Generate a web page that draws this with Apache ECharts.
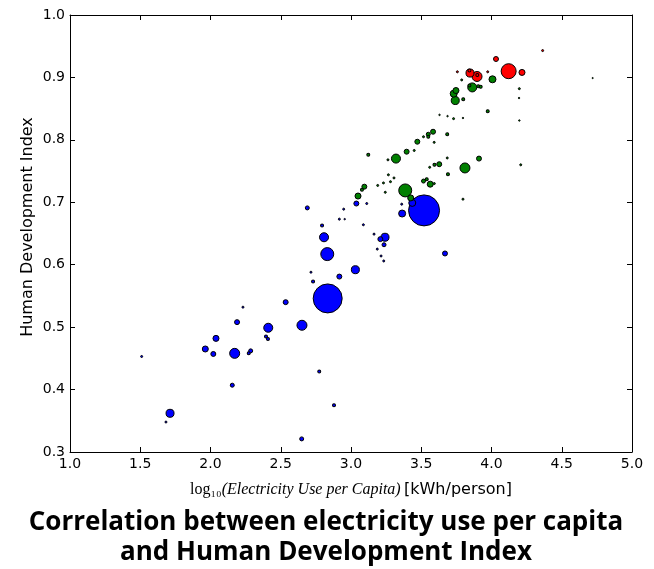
<!DOCTYPE html>
<html>
<head>
<meta charset="utf-8">
<script src="https://cdn.jsdelivr.net/npm/echarts@6/dist/echarts.min.js"></script>
<style>
  html, body { margin: 0; padding: 0; background: #fff; }
  #chart { width: 654px; height: 569px; }
</style>
</head>
<body>
<div id="chart"></div>
<script>
// log10 of electricity use per capita (kWh/person), HDI and population (millions)
// grouped by HDI tier.
const lowHdiElec = [1.51,1.712,1.683,1.963,2.020,2.039,2.172,2.189,2.155,2.272,2.286,2.411,2.395,2.409,2.651,2.774,2.879,2.649,2.231,2.535,2.834,2.715,2.730,2.917,3.031,2.831,2.808,2.794,2.689,2.948,2.917,2.955,3.038,3.112,3.088,3.164,3.209,3.242,3.235,3.187,3.214,3.233,3.361,3.436,3.364,3.520,3.669];
const lowHdiIndex = [0.453,0.362,0.348,0.465,0.457,0.482,0.458,0.508,0.407,0.458,0.462,0.499,0.485,0.481,0.503,0.429,0.375,0.321,0.532,0.540,0.546,0.588,0.573,0.581,0.592,0.617,0.644,0.663,0.691,0.689,0.673,0.673,0.698,0.698,0.664,0.649,0.641,0.644,0.632,0.625,0.614,0.606,0.697,0.699,0.682,0.687,0.618];
const lowHdiPop = [1.4,68,1.4,35,22,35,112,22,12.5,5.5,12.5,89,5.5,5.5,112,5.5,5.5,12.5,1.4,22,1085,1.4,5.5,22,68,199,89,5.5,12.5,1.4,1.4,0.3,22,1.4,1.4,1.4,22,68,12.5,1.4,1.4,1.4,1.4,50,50,1246,22];

const midHdiElec = [3.050,3.078,3.095,3.123,3.263,3.320,3.396,3.450,3.472,3.516,3.550,3.550,3.584,3.592,3.685,3.266,3.231,3.281,3.306,3.190,3.244,3.386,3.425,3.516,3.539,3.564,3.593,3.560,3.594,3.628,3.685,3.690,3.811,3.911,3.630,3.687,3.730,3.797,3.973,4.198,4.208,3.747,3.731,3.742,3.799,3.863,3.843,3.906,3.923,4.007,4.198,4.196,3.788,3.797,4.720];
const midHdiIndex = [0.710,0.720,0.725,0.776,0.768,0.770,0.781,0.783,0.797,0.805,0.805,0.809,0.813,0.796,0.809,0.744,0.731,0.733,0.739,0.727,0.716,0.719,0.707,0.734,0.737,0.729,0.730,0.756,0.760,0.761,0.771,0.745,0.755,0.770,0.840,0.838,0.834,0.835,0.846,0.831,0.760,0.879,0.874,0.863,0.865,0.884,0.887,0.886,0.885,0.897,0.882,0.867,0.896,0.705,0.899];
const midHdiPop = [35,5.5,22,5.5,1.4,89,22,1.4,22,1.4,5.5,12.5,22,1.4,5.5,1.4,1.4,1.4,1.4,1.4,1.4,199,35,12.5,5.5,35,1.4,1.4,5.5,22,1.4,5.5,112,22,0.3,0.3,1.4,0.3,5.5,0.3,1.4,35,50,68,5.5,89,5.5,5.5,5.5,50,1.4,0.3,1.4,1.4,0.05];

const highHdiElec = [4.032,4.122,4.217,3.847,3.897,3.843,3.899,3.757,3.973,4.364];
const highHdiIndex = [0.9295,0.910,0.908,0.907,0.9015,0.911,0.904,0.909,0.909,0.943];
const highHdiPop = [22,271,35,68,112,5.5,5.5,1.4,1.4,1.4];

const xTicks = [1.0,1.5,2.0,2.5,3.0,3.5,4.0,4.5,5.0];
const yTicks = [0.3,0.4,0.5,0.6,0.7,0.8,0.9,1.0];

const yAxisTitle = 'Human Development Index';
const titleLines = ['Correlation between electricity use per capita', 'and Human Development Index'];

// Larger populations are drawn first so smaller bubbles stay visible on top.
function points(xs, ys, pops) {
  return xs.map((x, i) => [x, ys[i], pops[i]]).sort((a, b) => b[2] - a[2]);
}

function bubbleSeries(data, color) {
  return {
    type: 'scatter',
    data: data,
    symbolSize: d => 1 + 0.85 * Math.sqrt(d[2]),
    itemStyle: { color: color, borderColor: '#000', borderWidth: 1, opacity: 1 },
    emphasis: { disabled: true },
    silent: true
  };
}

const tickFont = { fontFamily: 'DejaVu Sans', fontSize: 14, color: '#000' };

function xAxisCfg(bottom) {
  return {
    type: 'value', min: xTicks[0], max: xTicks[xTicks.length - 1], interval: 0.5,
    position: bottom ? 'bottom' : 'top',
    axisLine: { show: true, onZero: false, lineStyle: { color: '#000', width: 1 } },
    axisTick: { show: true, inside: true, length: 5, lineStyle: { color: '#000' } },
    axisLabel: Object.assign({ show: bottom, margin: 5, formatter: v => v.toFixed(1) }, tickFont),
    splitLine: { show: false }
  };
}
function yAxisCfg(left) {
  return {
    type: 'value', min: yTicks[0], max: yTicks[yTicks.length - 1], interval: 0.1,
    position: left ? 'left' : 'right',
    axisLine: { show: true, onZero: false, lineStyle: { color: '#000', width: 1 } },
    axisTick: { show: true, inside: true, length: 5, lineStyle: { color: '#000' } },
    axisLabel: Object.assign({ show: left, margin: 5, formatter: v => v.toFixed(1) }, tickFont),
    splitLine: { show: false }
  };
}

const xMain = xAxisCfg(true);
xMain.name = '{log|log₁₀}{it|(Electricity Use per Capita)} {sans|[kWh/person]}';
xMain.nameLocation = 'middle';
xMain.nameGap = 30;
xMain.nameTextStyle = {
  rich: {
    log: { fontFamily: 'Liberation Serif', fontSize: 16, color: '#000' },
    it: { fontFamily: 'Liberation Serif', fontStyle: 'italic', fontSize: 16, color: '#000' },
    sans: { fontFamily: 'DejaVu Sans', fontSize: 16, color: '#000' }
  }
};

const titleFont = 'bold 26px "Open Sans"';

const graphics = titleLines.map((line, i) => ({
  type: 'text',
  x: 326,
  y: 523 + i * 30,
  style: { text: line, font: titleFont, fill: '#000', textAlign: 'center', textVerticalAlign: 'middle' }
}));
// vertical y-axis title
graphics.push({
  type: 'text',
  x: 28,
  y: 227,
  rotation: Math.PI / 2,
  style: { text: yAxisTitle, font: '16px "DejaVu Sans"', fill: '#000', textAlign: 'center', textVerticalAlign: 'middle' }
});

const chart = echarts.init(document.getElementById('chart'), null, { renderer: 'canvas' });
chart.setOption({
  animation: false,
  backgroundColor: '#fff',
  graphic: graphics,
  grid: { left: 70, right: 22, top: 15, bottom: 117, show: false },
  xAxis: [xMain, xAxisCfg(false)],
  yAxis: [yAxisCfg(true), yAxisCfg(false)],
  series: [
    bubbleSeries(points(lowHdiElec, lowHdiIndex, lowHdiPop), '#0000ff'),
    bubbleSeries(points(midHdiElec, midHdiIndex, midHdiPop), '#008000'),
    bubbleSeries(points(highHdiElec, highHdiIndex, highHdiPop), '#ff0000')
  ]
});
</script>
</body>
</html>
